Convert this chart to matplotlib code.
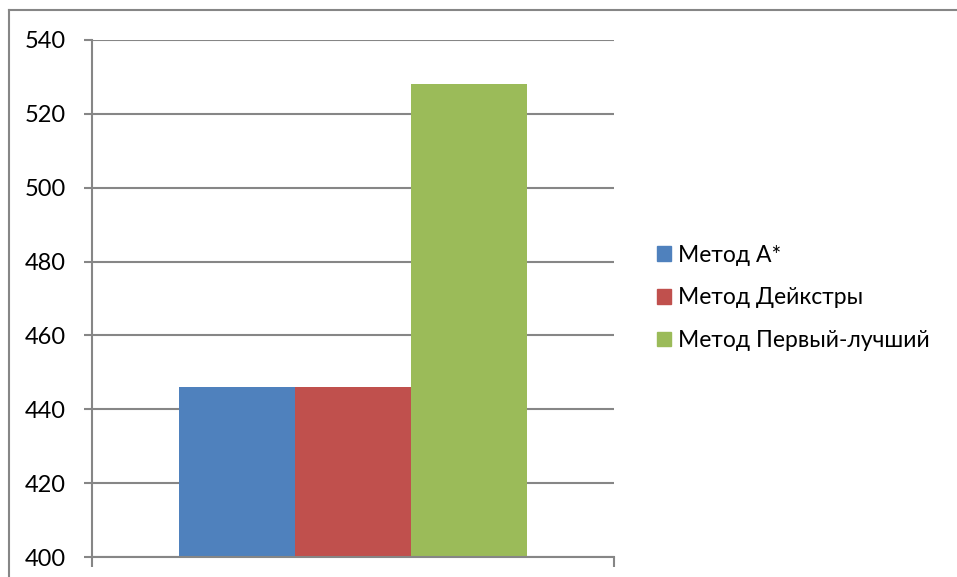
import matplotlib.pyplot as plt
from matplotlib.patches import Patch
from matplotlib.lines import Line2D

methods = ['Метод A*', 'Метод Дейкстры', 'Метод Первый-лучший']
values = [446, 446, 528]
colors = ['#4f81bd', '#c0504d', '#9bbb59']
yticks = [400, 420, 440, 460, 480, 500, 520, 540]

plt.rcParams['font.family'] = ['Lato', 'DejaVu Sans']
grid_c = '#868686'

W, H = 957, 577
fig = plt.figure(figsize=(W / 100, H / 100), dpi=100)
ax = fig.add_axes([92 / W, 1 - 557 / H, (614 - 92) / W, (557 - 40) / H])

bw = 1 / 4.5
for i, (m, v, c) in enumerate(zip(methods, values, colors)):
    ax.bar((i - 1) * bw, v - 400, bottom=400, width=bw, color=c, label=m, zorder=3)

ax.set_xlim(-0.5, 0.5)
ax.set_ylim(400, 540)
ax.set_yticks(yticks)
ax.set_yticklabels([str(t) for t in yticks], fontsize=17)
ax.set_xticks([-0.5, 0.5])
ax.set_xticklabels([])
ax.tick_params(axis='y', length=6, width=1.5, color=grid_c, pad=13)
ax.tick_params(axis='x', length=7, width=1.5, color=grid_c)
ax.grid(axis='y', color=grid_c, linewidth=1.5, zorder=0)
for s in ['top', 'right']:
    ax.spines[s].set_visible(False)
ax.spines['left'].set_color(grid_c)
ax.spines['left'].set_linewidth(1.5)
ax.spines['bottom'].set_color(grid_c)
ax.spines['bottom'].set_linewidth(1.5)
ax.spines['bottom'].set_zorder(4)

# outer chart border (top and left only visible)
fig.add_artist(Line2D([9 / W, 1], [1 - 10 / H, 1 - 10 / H], color=grid_c, lw=1.5))
fig.add_artist(Line2D([9 / W, 9 / W], [1 - 10 / H, 0], color=grid_c, lw=1.5))

handles = [Patch(color=c) for c in colors]
fig.legend(handles, methods, loc='center left', bbox_to_anchor=(657 / W, 1 - 298 / H),
           frameon=False, fontsize=16.5, handlelength=0.6, handleheight=0.6,
           handletextpad=0.3, labelspacing=0.95, borderpad=0, borderaxespad=0)

fig.savefig('out.png', dpi=100)
